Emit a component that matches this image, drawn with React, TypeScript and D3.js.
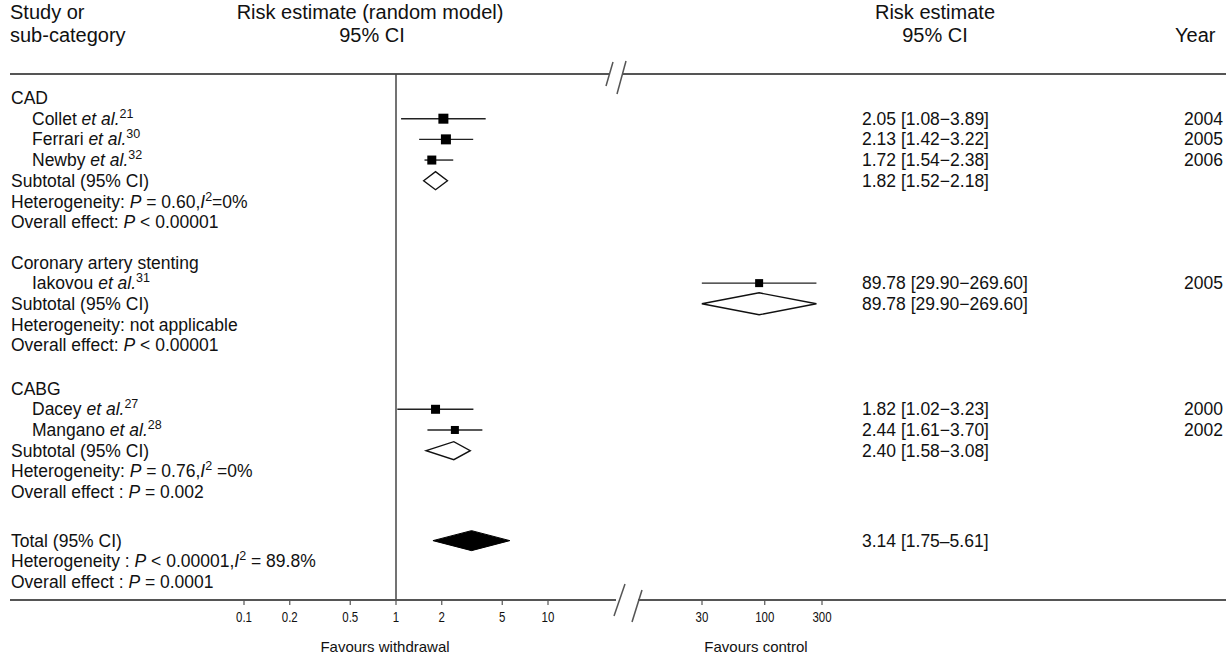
import React, { useEffect } from 'react';
import * as d3 from 'd3';

// studies
const groupNames = ['CAD', 'Coronary artery stenting', 'CABG'];
const studyNames = ['Collet', 'Ferrari', 'Newby', 'Iakovou', 'Dacey', 'Mangano'];
const studyRefs = ['21', '30', '32', '31', '27', '28'];
const studyGroup = [0, 0, 0, 1, 2, 2];
const estimates = [2.05, 2.13, 1.72, 89.78, 1.82, 2.44];
const lower = [1.08, 1.42, 1.54, 29.9, 1.02, 1.61];
const upper = [3.89, 3.22, 2.38, 269.6, 3.23, 3.7];
const years = ['2004', '2005', '2006', '2005', '2000', '2002'];
const weights = [10, 10, 9, 8, 9, 8];

// subtotals per group
const subEst = [1.82, 89.78, 2.4];
const subLo = [1.52, 29.9, 1.58];
const subHi = [2.18, 269.6, 3.08];
const subHet = [
  [['Heterogeneity: '], ['P', 'i'], [' = 0.60,'], ['I', 'i'], ['2', 's'], ['=0%']],
  [['Heterogeneity: not applicable']],
  [['Heterogeneity: '], ['P', 'i'], [' = 0.76,'], ['I', 'i'], ['2', 's'], [' =0%']],
];
const subOverall = [
  [['Overall effect: '], ['P', 'i'], [' < 0.00001']],
  [['Overall effect: '], ['P', 'i'], [' < 0.00001']],
  [['Overall effect : '], ['P', 'i'], [' = 0.002']],
];

// total
const totalEst = 3.14;
const totalLo = 1.75;
const totalHi = 5.61;
const totalHet = [['Heterogeneity : '], ['P', 'i'], [' < 0.00001,'], ['I', 'i'], ['2', 's'], [' = 89.8%']];
const totalOverall = [['Overall effect : '], ['P', 'i'], [' = 0.0001']];

const ticksLeft = [0.1, 0.2, 0.5, 1, 2, 5, 10];
const ticksRight = [30, 100, 300];

const W = 1226;
const H = 658;
const FONT = '"Liberation Sans", Arial, sans-serif';
const ROW_FS = 17.5;

function fmtCI(e: number, lo: number, hi: number, dash = '\u2212') {
  return `${e.toFixed(2)} [${lo.toFixed(2)}${dash}${hi.toFixed(2)}]`;
}

const Rich = ({ x, y, parts, size = ROW_FS }: any) => {
  let shifted = false;
  return (
    <text x={x} y={y} dy="0.35em" fontSize={size} fontFamily={FONT} fill="#111">
      {parts.map((p: string[], k: number) => {
        const style = p[1];
        let dy: number | undefined;
        if (style === 's') { dy = -7; shifted = true; }
        else if (shifted) { dy = 7; shifted = false; }
        return (
          <tspan key={k} dy={dy} fontStyle={style === 'i' ? 'italic' : undefined}
            fontSize={style === 's' ? 12.5 : undefined}>{p[0]}</tspan>
        );
      })}
    </text>
  );
};

export default function App() {
  useEffect(() => { document.body.style.margin = '0'; }, []);

  const xL = d3.scaleLog().domain([0.1, 10]).range([244, 548]);
  const xR = d3.scaleLog().domain([30, 300]).range([702, 822]);
  const x = (v: number) => (v <= 15 ? xL(v) : xR(v));
  const y = d3.scaleLinear().domain([0, 23.4]).range([98, 582]);

  const topY = 74;
  const axisY = 600;
  const estX = 862;
  const yearX = 1184;

  // build rows
  const groupStart = [0, 7.95, 14.05];
  const rows: any[] = [];
  groupNames.forEach((g, gi) => {
    const s0 = groupStart[gi];
    rows.push({ r: s0, parts: [[g]], indent: 0 });
    let k = 1;
    studyNames.forEach((n, si) => {
      if (studyGroup[si] !== gi) return;
      rows.push({ r: s0 + k, parts: [[n + ' '], ['et al.', 'i'], [studyRefs[si], 's']], indent: 1, study: si });
      k++;
    });
    rows.push({ r: s0 + k, parts: [['Subtotal (95% CI)']], indent: 0, sub: gi });
    rows.push({ r: s0 + k + 1, parts: subHet[gi], indent: 0 });
    rows.push({ r: s0 + k + 2, parts: subOverall[gi], indent: 0 });
  });
  const tr = 21.4;
  rows.push({ r: tr, parts: [['Total (95% CI)']], indent: 0, total: true });
  rows.push({ r: tr + 1, parts: totalHet, indent: 0 });
  rows.push({ r: tr + 2, parts: totalOverall, indent: 0 });

  const diamond = (lo: number, e: number, hi: number, cy: number, h: number) =>
    `M${x(lo)},${cy} L${x(e)},${cy - h} L${x(hi)},${cy} L${x(e)},${cy + h} Z`;

  const txt = (key: string, tx: number, cy: number, s: string) => (
    <text key={key} x={tx} y={cy} dy="0.35em" fontFamily={FONT} fontSize={ROW_FS} fill="#111">{s}</text>
  );

  const tickLabel = (tx: number, s: string) => (
    <text transform={`translate(${tx},${axisY + 17}) scale(0.82,1)`} dy="0.35em">{s}</text>
  );

  return (
    <svg width={W} height={H} style={{ display: 'block', background: '#fff' }}>
      {/* headers */}
      <g fontFamily={FONT} fontSize={20} fill="#111">
        <text x={10} y={12} dy="0.35em">Study or</text>
        <text x={10} y={35} dy="0.35em">sub-category</text>
        <text x={370} y={12} dy="0.35em" textAnchor="middle">Risk estimate (random model)</text>
        <text x={372} y={35} dy="0.35em" textAnchor="middle">95% CI</text>
        <text x={935} y={12} dy="0.35em" textAnchor="middle">Risk estimate</text>
        <text x={935} y={35} dy="0.35em" textAnchor="middle">95% CI</text>
        <text x={1175} y={35} dy="0.35em">Year</text>
      </g>

      {/* top rule with break */}
      <g stroke="#555" strokeWidth={2}>
        <line x1={10} x2={609} y1={topY} y2={topY} />
        <line x1={623} x2={W} y1={topY} y2={topY} />
        <line x1={613} y1={62} x2={606} y2={86} strokeWidth={1.5} />
        <line x1={626} y1={61} x2={617} y2={94} strokeWidth={1.5} />
      </g>

      {/* line of no effect */}
      <line x1={x(1)} x2={x(1)} y1={topY} y2={axisY} stroke="#444" strokeWidth={1.5} />

      {/* rows */}
      {rows.map((row, i) => {
        const cy = y(row.r);
        const out: any[] = [];
        out.push(<Rich key="l" x={row.indent ? 32 : 11} y={cy} parts={row.parts} />);
        if (row.study !== undefined) {
          const si = row.study;
          const w = weights[si];
          out.push(<line key="ci" x1={x(lower[si])} x2={x(upper[si])} y1={cy} y2={cy} stroke="#222" strokeWidth={1.4} />);
          out.push(<rect key="pt" x={x(estimates[si]) - w / 2} y={cy - w / 2} width={w} height={w} fill="#000" />);
          out.push(txt('e', estX, cy, fmtCI(estimates[si], lower[si], upper[si])));
          out.push(txt('yr', yearX, cy, years[si]));
        }
        if (row.sub !== undefined) {
          const gi = row.sub;
          out.push(<path key="d" d={diamond(subLo[gi], subEst[gi], subHi[gi], cy, gi === 1 ? 11 : 9)} fill="#fff" stroke="#111" strokeWidth={1.4} />);
          out.push(txt('e', estX, cy, fmtCI(subEst[gi], subLo[gi], subHi[gi])));
        }
        if (row.total) {
          out.push(<path key="d" d={diamond(totalLo, totalEst, totalHi, cy, 10)} fill="#000" stroke="#000" strokeWidth={1} />);
          out.push(txt('e', estX, cy, fmtCI(totalEst, totalLo, totalHi, '\u2013')));
        }
        return <g key={i}>{out}</g>;
      })}

      {/* bottom axis with break */}
      <g stroke="#555" strokeWidth={2}>
        <line x1={10} x2={616} y1={axisY} y2={axisY} />
        <line x1={638} x2={W} y1={axisY} y2={axisY} />
        <line x1={625} y1={584} x2={614} y2={616} strokeWidth={1.5} />
        <line x1={642} y1={590} x2={632} y2={622} strokeWidth={1.5} />
      </g>
      <g fontFamily={FONT} fontSize={14} fill="#111" textAnchor="middle">
        {ticksLeft.map((t) => (
          <g key={'l' + t}>
            <line x1={xL(t)} x2={xL(t)} y1={axisY} y2={axisY + 5} stroke="#555" strokeWidth={1.2} />
            {tickLabel(xL(t), d3.format('~g')(t))}
          </g>
        ))}
        {ticksRight.map((t) => (
          <g key={'r' + t}>
            <line x1={xR(t)} x2={xR(t)} y1={axisY} y2={axisY + 5} stroke="#555" strokeWidth={1.2} />
            {tickLabel(xR(t), String(t))}
          </g>
        ))}
      </g>
      <g fontFamily={FONT} fontSize={15} fill="#111" textAnchor="middle">
        <text x={385} y={647} dy="0.35em">Favours withdrawal</text>
        <text x={756} y={647} dy="0.35em">Favours control</text>
      </g>
    </svg>
  );
}
